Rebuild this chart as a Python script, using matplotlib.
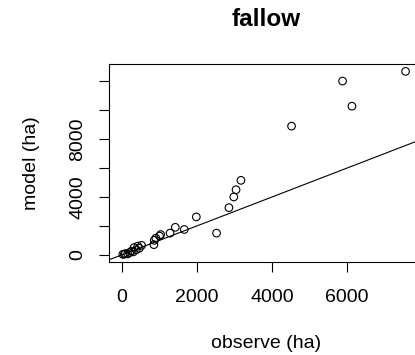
import matplotlib
matplotlib.use("Agg")
import matplotlib.pyplot as plt

# Data
observe = [20, 60, 90, 150, 200, 250, 300, 320, 380, 420, 460, 520, 850, 860, 900,
           1000, 1030, 1280, 1420, 1660, 1980, 2520, 2850, 2980, 3040, 3170, 4520,
           5880, 6130, 7560]
model = [30, 40, 80, 60, 150, 250, 200, 500, 350, 600, 450, 650, 700, 1000, 1150,
         1300, 1400, 1500, 1900, 1750, 2620, 1500, 3260, 4000, 4500, 5150, 8900,
         12020, 10280, 12690]
xticks = [0, 2000, 4000, 6000, 8000]
xticklabels = ["0", "2000", "4000", "6000", ""]
yticks = [0, 2000, 4000, 6000, 8000, 10000, 12000]
yticklabels = ["0", "", "4000", "", "8000", "", ""]
title = "fallow"
xlabel = "observe (ha)"
ylabel = "model (ha)"

plt.rcParams['font.family'] = ['Liberation Sans', 'DejaVu Sans']

fig = plt.figure(figsize=(4.15, 3.55), dpi=100)
ax = fig.add_axes([0.2634, 0.2628, 1.017 - 0.2634, 0.8197 - 0.2628])

ax.scatter(observe, model, s=30, facecolors='none', edgecolors='black', linewidths=0.8, zorder=3)
ax.axline((0, 0), slope=1, color='black', linewidth=0.8)

ax.set_xlim(-340, 7862)
ax.set_ylim(-480, 13200)

ax.set_xticks(xticks)
ax.set_xticklabels(xticklabels)
ax.set_yticks(yticks)
ax.set_yticklabels(yticklabels, rotation=90, va='center')

ax.tick_params(axis='x', length=7.5, width=0.8, labelsize=14, pad=12)
ax.tick_params(axis='y', length=7.5, width=0.8, labelsize=14, pad=9)
for s in ax.spines.values():
    s.set_linewidth(0.8)

fig.text(265.7 / 415, 1 - 20 / 355, title, ha='center', va='center', fontsize=17.5, fontweight='bold')
fig.text(265.7 / 415, 1 - 343 / 355, xlabel, ha='center', va='center', fontsize=14)
fig.text(32 / 415, 1 - 163 / 355, ylabel, ha='center', va='center', fontsize=14, rotation=90)

fig.savefig("out.png", dpi=100)
